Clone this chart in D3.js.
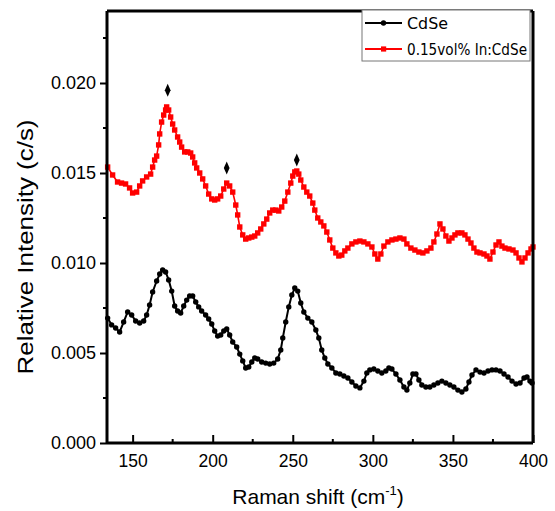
<!DOCTYPE html>
<html>
<head>
<meta charset="utf-8">
<script src="https://cdn.jsdelivr.net/npm/d3@7"></script>
<style>
  html, body { margin: 0; padding: 0; background: #fff; }
  svg { display: block; }
</style>
</head>
<body>
<svg id="chart" width="555" height="511"></svg>
<script>
// Raman shift (cm^-1) and relative intensity (c/s) for undoped CdSe
const cdseShift = [134.4,136.9,139.4,141.9,144.4,146.9,149.4,151.9,154.4,156.9,158.75,160.6,162.5,165,166.9,168.75,170.6,172.5,174.4,176.25,178.1,180,181.9,183.75,185.6,187.5,189.4,191.25,193.1,195.6,197.5,199.4,201.25,203.1,205,206.9,208.75,210.6,212.5,215,216.9,218.75,220.6,222.5,224.4,226.25,228.1,230.6,233.1,235.6,238.1,240.6,242.5,243.75,245.6,247.5,249.4,251.25,253.1,255,256.9,259.4,261.9,264.4,266.25,268.1,270,271.9,274.4,276.9,279.4,281.9,284.4,286.9,289.4,291.9,294.4,296.25,298.1,300.6,303.1,305.6,308.1,310,311.9,314.4,316.9,319.4,321.25,323.1,325,326.9,328.75,330.6,333.1,335.6,338.1,340.6,343.1,345.6,348.1,350.6,353.1,355.6,358.1,360,361.9,364.4,366.9,369.4,371.9,374.4,376.9,379.4,381.9,384.4,386.9,389.4,391.9,394.4,396.25,398.1,399.4];
const cdseIntensity = [0.00694,0.00656,0.00639,0.00617,0.00672,0.00728,0.00711,0.00678,0.00667,0.00678,0.00711,0.00767,0.00839,0.00900,0.00939,0.00961,0.00950,0.00906,0.00844,0.00761,0.00733,0.00722,0.00761,0.00794,0.00817,0.00817,0.00783,0.00756,0.00733,0.00711,0.00689,0.00661,0.00622,0.00594,0.00600,0.00622,0.00633,0.00600,0.00561,0.00533,0.00494,0.00456,0.00417,0.00422,0.00450,0.00472,0.00467,0.00450,0.00444,0.00439,0.00444,0.00467,0.00517,0.00583,0.00672,0.00756,0.00822,0.00861,0.00844,0.00778,0.00728,0.00694,0.00672,0.00628,0.00583,0.00517,0.00472,0.00439,0.00417,0.00389,0.00383,0.00372,0.00361,0.00339,0.00317,0.00306,0.00344,0.00389,0.00406,0.00411,0.00400,0.00389,0.00400,0.00417,0.00411,0.00383,0.00350,0.00311,0.00294,0.00333,0.00383,0.00383,0.00350,0.00322,0.00311,0.00311,0.00322,0.00333,0.00344,0.00333,0.00322,0.00311,0.00294,0.00283,0.00300,0.00339,0.00378,0.00406,0.00394,0.00389,0.00400,0.00406,0.00406,0.00400,0.00383,0.00367,0.00344,0.00328,0.00333,0.00361,0.00367,0.00344,0.00333];

// Raman shift (cm^-1) and relative intensity (c/s) for 0.15 vol% In-doped CdSe
const inCdseShift = [134.4,137.5,140.6,143.1,145.6,148.1,150,152.5,154.4,156.25,158.75,161.25,162.5,163.75,165,166.25,166.9,168.1,169.4,170.6,171.25,172.5,173.75,175,176.25,178.1,179.4,180.6,182.5,184.4,186.25,187.5,188.75,190,191.9,193.75,195.6,197.5,199.4,201.25,203.1,205,206.9,208.75,210.6,212.5,214.4,215.6,216.9,218.75,220.6,222.5,224.4,226.25,228.1,230,231.9,233.75,235.6,237.5,239.4,241.25,243.1,245,246.9,248.75,250,251.25,252.5,253.75,255,256.9,258.75,260.6,262.5,263.75,265.6,267.5,269.4,271.25,273.1,275,276.9,278.75,280.6,282.5,284.4,286.9,289.4,291.9,294.4,296.9,299.4,301.25,303.1,305,306.9,309.4,311.9,314.4,316.9,319.4,321.25,323.75,326.25,328.75,331.25,333.75,336.25,338.1,340,341.9,343.75,345.6,347.5,349.4,351.25,353.1,355.6,357.5,359.4,361.25,363.1,365,366.9,369.4,371.25,373.1,375,376.9,378.75,380.6,382.5,385,387.5,389.4,391.25,393.1,395,396.9,398.75,400];
const inCdseIntensity = [0.01533,0.01489,0.01450,0.01444,0.01439,0.01417,0.01389,0.01394,0.01428,0.01456,0.01478,0.01494,0.01533,0.01572,0.01594,0.01656,0.01717,0.01783,0.01822,0.01850,0.01867,0.01850,0.01811,0.01772,0.01739,0.01700,0.01672,0.01644,0.01617,0.01617,0.01611,0.01589,0.01556,0.01528,0.01500,0.01467,0.01428,0.01383,0.01356,0.01350,0.01356,0.01372,0.01411,0.01444,0.01428,0.01394,0.01322,0.01267,0.01200,0.01156,0.01133,0.01139,0.01144,0.01150,0.01167,0.01189,0.01217,0.01244,0.01278,0.01294,0.01294,0.01289,0.01311,0.01344,0.01394,0.01444,0.01483,0.01506,0.01511,0.01494,0.01461,0.01422,0.01394,0.01372,0.01333,0.01294,0.01250,0.01228,0.01206,0.01172,0.01128,0.01083,0.01056,0.01039,0.01044,0.01067,0.01083,0.01106,0.01117,0.01122,0.01117,0.01106,0.01089,0.01050,0.01022,0.01050,0.01094,0.01117,0.01128,0.01133,0.01139,0.01133,0.01106,0.01083,0.01072,0.01061,0.01056,0.01067,0.01083,0.01117,0.01161,0.01217,0.01189,0.01150,0.01122,0.01139,0.01156,0.01167,0.01167,0.01156,0.01133,0.01111,0.01083,0.01061,0.01056,0.01050,0.01039,0.01022,0.01061,0.01100,0.01117,0.01094,0.01083,0.01078,0.01072,0.01056,0.01028,0.01006,0.01028,0.01056,0.01078,0.01089];

// Peak markers (diamonds) above the In:CdSe bands
const peakShift = [171.9, 208.75, 252.5];
const peakIntensity = [0.0196, 0.01528, 0.01572];

// Axis ticks
const xMajorTicks = [150, 200, 250, 300, 350, 400];
const xMinorTicks = [175, 225, 275, 325, 375];
const yMajorTicks = [0.000, 0.005, 0.010, 0.015, 0.020];
const yMinorTicks = [0.0025, 0.0075, 0.0125, 0.0175, 0.0225];

const seriesNames = ["CdSe", "0.15vol% In:CdSe"];
const seriesColors = ["#000000", "#ff0000"];

const svg = d3.select("#chart");
const plotLeft = 107, plotRight = 533, plotTop = 11, plotBottom = 443;

const x = d3.scaleLinear().domain([134, 400]).range([plotLeft, plotRight]);
const y = d3.scaleLinear().domain([0, 0.024]).range([plotBottom, plotTop]);

const font = "'Liberation Sans', Arial, sans-serif";

// Curves
const line = d3.line().x(d => x(d[0])).y(d => y(d[1]));
const blackPts = d3.zip(cdseShift, cdseIntensity);
const redPts = d3.zip(inCdseShift, inCdseIntensity);

svg.append("path").datum(redPts)
  .attr("d", line).attr("fill", "none")
  .attr("stroke", seriesColors[1]).attr("stroke-width", 1.6);
svg.append("g").selectAll("rect").data(redPts).join("rect")
  .attr("x", d => x(d[0]) - 2.7).attr("y", d => y(d[1]) - 2.7)
  .attr("width", 5.4).attr("height", 5.4)
  .attr("fill", seriesColors[1]);

svg.append("path").datum(blackPts)
  .attr("d", line).attr("fill", "none")
  .attr("stroke", seriesColors[0]).attr("stroke-width", 2);
svg.append("g").selectAll("circle").data(blackPts).join("circle")
  .attr("cx", d => x(d[0])).attr("cy", d => y(d[1]))
  .attr("r", 2.7).attr("fill", seriesColors[0]);

// Diamond peak markers
const diamond = d3.symbol().type(d3.symbolDiamond).size(40);
svg.append("g").selectAll("path").data(d3.zip(peakShift, peakIntensity)).join("path")
  .attr("d", diamond)
  .attr("transform", d => `translate(${x(d[0])},${y(d[1])}) scale(0.85,1.1)`)
  .attr("fill", "#000");

// Frame
svg.append("line").attr("x1", plotLeft).attr("x2", plotRight).attr("y1", plotTop).attr("y2", plotTop)
  .attr("stroke", "#000").attr("stroke-width", 3);
svg.append("line").attr("x1", plotRight).attr("x2", plotRight).attr("y1", plotTop).attr("y2", plotBottom)
  .attr("stroke", "#000").attr("stroke-width", 3);

// X axis: ticks point inward
const xAxis = d3.axisBottom(x).tickValues(xMajorTicks).tickSizeInner(-8).tickSizeOuter(0)
  .tickPadding(12).tickFormat(d3.format("d"));
const gx = svg.append("g").attr("transform", `translate(0,${plotBottom})`).call(xAxis);
gx.select(".domain").attr("stroke-width", 3).attr("d", `M${plotLeft},0H${plotRight}`);
gx.selectAll(".tick line").attr("stroke-width", 2);
gx.selectAll("text").attr("font-family", font).attr("font-size", 17.5).attr("fill", "#000");
gx.selectAll(".minor").data(xMinorTicks).join("line").attr("class", "minor")
  .attr("x1", d => x(d)).attr("x2", d => x(d)).attr("y1", 0).attr("y2", -4)
  .attr("stroke", "#000").attr("stroke-width", 2);

// Y axis: ticks point outward
const yAxis = d3.axisLeft(y).tickValues(yMajorTicks).tickSizeInner(7).tickSizeOuter(0)
  .tickPadding(4).tickFormat(d3.format(".3f"));
const gy = svg.append("g").attr("transform", `translate(${plotLeft},0)`).call(yAxis);
gy.select(".domain").attr("stroke-width", 3).attr("d", `M0,${plotBottom}V${plotTop}`);
gy.selectAll(".tick line").attr("stroke-width", 2);
gy.selectAll("text").attr("font-family", font).attr("font-size", 18).attr("fill", "#000");
gy.selectAll(".minor").data(yMinorTicks).join("line").attr("class", "minor")
  .attr("x1", 0).attr("x2", -4).attr("y1", d => y(d)).attr("y2", d => y(d))
  .attr("stroke", "#000").attr("stroke-width", 2);

// Axis titles
const xt = svg.append("text").attr("x", 318).attr("y", 504)
  .attr("text-anchor", "middle").attr("font-family", font).attr("font-size", 21).attr("fill", "#000");
xt.append("tspan").text("Raman shift (cm");
xt.append("tspan").text("-1").attr("font-size", 13).attr("dy", -9);
xt.append("tspan").text(")").attr("dy", 9);

svg.append("text")
  .attr("transform", "translate(33,247) rotate(-90)")
  .attr("text-anchor", "middle").attr("font-family", font).attr("font-size", 22)
  .attr("textLength", 255).attr("lengthAdjust", "spacingAndGlyphs")
  .attr("fill", "#000").text("Relative Intensity (c/s)");

// Legend
const lg = svg.append("g");
lg.append("rect").attr("x", 362).attr("y", 10).attr("width", 168).attr("height", 51)
  .attr("fill", "#fff").attr("stroke", "#777").attr("stroke-width", 1);
const rows = [23, 49];
seriesNames.forEach((name, i) => {
  const cy = rows[i];
  lg.append("line").attr("x1", 365).attr("x2", 402).attr("y1", cy).attr("y2", cy)
    .attr("stroke", seriesColors[i]).attr("stroke-width", i === 0 ? 2 : 1.8);
  if (i === 0) {
    lg.append("circle").attr("cx", 383.5).attr("cy", cy).attr("r", 2.7).attr("fill", seriesColors[i]);
  } else {
    lg.append("rect").attr("x", 381).attr("y", cy - 2.6).attr("width", 5.2).attr("height", 5.2)
      .attr("fill", seriesColors[i]);
  }
  lg.append("text").attr("x", 407).attr("y", cy + 6)
    .attr("font-family", "'DejaVu Sans', Verdana, sans-serif").attr("font-size", 16)
    .attr("fill", "#000")
    .attr("textLength", i === 0 ? 41 : 120).attr("lengthAdjust", "spacingAndGlyphs")
    .text(name);
});
</script>
</body>
</html>
